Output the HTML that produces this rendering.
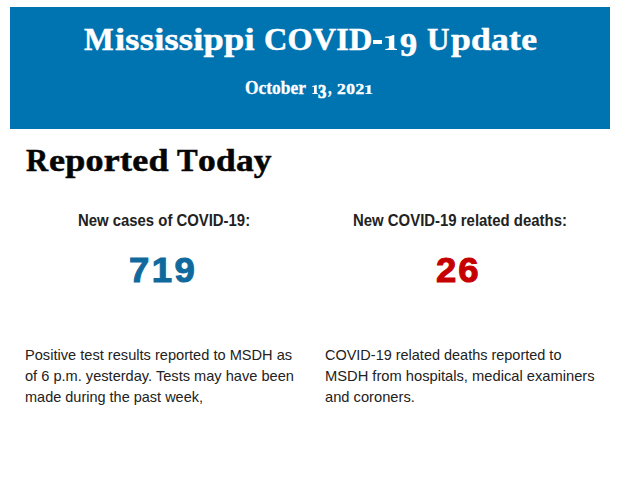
<!DOCTYPE html>
<html>
<head>
<meta charset="utf-8">
<title>Mississippi COVID-19 Update</title>
<style>
html,body{margin:0;padding:0;background:#fff;}
body{width:620px;height:483px;position:relative;overflow:hidden;font-family:"Liberation Sans",sans-serif;}
.hdr{position:absolute;left:10px;top:7px;width:600px;height:122px;background:#0073b1;}
.x{position:absolute;white-space:nowrap;line-height:1;transform-origin:0 0;display:block;}
</style>
</head>
<body>
<div class="hdr"></div>
<span class="x" style="left:83.55px;top:23.90px;font-family:'Liberation Serif', serif;font-weight:bold;font-size:31px;letter-spacing:0px;color:#fff;transform:scaleX(1.0136);-webkit-text-stroke:0.5px #fff;">M</span><span class="x" style="left:115.09px;top:23.90px;font-family:'Liberation Serif', serif;font-weight:bold;font-size:31px;letter-spacing:0.2px;color:#fff;transform:scaleX(1.1737);-webkit-text-stroke:0.5px #fff;">ississippi</span> <span class="x" style="left:264.42px;top:23.90px;font-family:'Liberation Serif', serif;font-weight:bold;font-size:31px;letter-spacing:0.2px;color:#fff;transform:scaleX(1.0406);-webkit-text-stroke:0.5px #fff;">COVID</span><span class="x" style="left:372.9px;top:39.6px;width:9.3px;height:4.3px;background:#fff;font-size:0;">-</span><span class="x" style="left:384.5px;top:34.8px;font-size:0;">1<svg style="display:block" width="12.9" height="15.2" viewBox="0 0 12.9 15.2" preserveAspectRatio="none"><path fill="#fff" d="M0.3 1.6 L3.2 1.4 C5.2 1.2 6.6 0.7 8 0 L9.3 0 L9.3 12.6 C9.3 13.5 9.8 13.8 12.6 14 L12.6 15.2 L0.3 15.2 L0.3 14 C3.2 13.8 3.9 13.5 3.9 12.6 L3.9 3.9 C3.9 3.2 3.6 3 2.6 3 L0.3 3 Z"/></svg></span><span class="x" style="left:399.71px;top:28.50px;font-family:'Liberation Serif', serif;font-weight:bold;font-size:33px;letter-spacing:0px;color:#fff;transform:scaleX(1.0361);-webkit-text-stroke:0.6px #fff;">9</span> <span class="x" style="left:426.85px;top:23.90px;font-family:'Liberation Serif', serif;font-weight:bold;font-size:31px;letter-spacing:0px;color:#fff;transform:scaleX(1.0044);-webkit-text-stroke:0.5px #fff;">U</span><span class="x" style="left:450.89px;top:23.90px;font-family:'Liberation Serif', serif;font-weight:bold;font-size:31px;letter-spacing:0.2px;color:#fff;transform:scaleX(1.1487);-webkit-text-stroke:0.5px #fff;">pdate</span>
<span class="x" style="left:244.64px;top:78.65px;font-family:'Liberation Serif', serif;font-weight:bold;font-size:18.5px;letter-spacing:0px;color:#fff;transform:scaleX(0.9412);-webkit-text-stroke:0.3px #fff;">October</span> <span class="x" style="left:311.6px;top:85.0px;font-size:0;">1<svg style="display:block" width="6.6" height="9.1" viewBox="0 0 12.9 15.2" preserveAspectRatio="none"><path fill="#fff" d="M0.3 1.6 L3.2 1.4 C5.2 1.2 6.6 0.7 8 0 L9.3 0 L9.3 12.6 C9.3 13.5 9.8 13.8 12.6 14 L12.6 15.2 L0.3 15.2 L0.3 14 C3.2 13.8 3.9 13.5 3.9 12.6 L3.9 3.9 C3.9 3.2 3.6 3 2.6 3 L0.3 3 Z"/></svg></span><span class="x" style="left:318.42px;top:82.90px;font-family:'Liberation Serif', serif;font-weight:bold;font-size:18px;letter-spacing:0px;color:#fff;transform:scaleX(0.9278);-webkit-text-stroke:0.7px #fff;">3</span><span class="x" style="left:328.31px;top:77.65px;font-family:'Liberation Serif', serif;font-weight:bold;font-size:19.5px;letter-spacing:0px;color:#fff;transform:scaleX(0.7547);-webkit-text-stroke:0.3px #fff;">,</span> <span class="x" style="left:337.04px;top:81.95px;font-family:'Liberation Serif', serif;font-weight:bold;font-size:14.5px;letter-spacing:0.4px;color:#fff;transform:scaleX(1.2070);-webkit-text-stroke:0.4px #fff;">202</span><span class="x" style="left:364.9px;top:85.0px;font-size:0;">1<svg style="display:block" width="7.7" height="9.1" viewBox="0 0 12.9 15.2" preserveAspectRatio="none"><path fill="#fff" d="M0.3 1.6 L3.2 1.4 C5.2 1.2 6.6 0.7 8 0 L9.3 0 L9.3 12.6 C9.3 13.5 9.8 13.8 12.6 14 L12.6 15.2 L0.3 15.2 L0.3 14 C3.2 13.8 3.9 13.5 3.9 12.6 L3.9 3.9 C3.9 3.2 3.6 3 2.6 3 L0.3 3 Z"/></svg></span>
<span class="x" style="left:25.65px;top:146.05px;font-family:'Liberation Serif', serif;font-weight:bold;font-size:30.5px;letter-spacing:0px;color:#060606;transform:scaleX(1.0043);-webkit-text-stroke:0.5px #060606;">R</span><span class="x" style="left:49.11px;top:146.05px;font-family:'Liberation Serif', serif;font-weight:bold;font-size:30.5px;letter-spacing:0.2px;color:#060606;transform:scaleX(1.1829);-webkit-text-stroke:0.5px #060606;">eported</span> <span class="x" style="left:176.95px;top:146.05px;font-family:'Liberation Serif', serif;font-weight:bold;font-size:30.5px;letter-spacing:0px;color:#060606;transform:scaleX(1.0146);-webkit-text-stroke:0.5px #060606;">T</span><span class="x" style="left:197.53px;top:146.05px;font-family:'Liberation Serif', serif;font-weight:bold;font-size:30.5px;letter-spacing:0.2px;color:#060606;transform:scaleX(1.1620);-webkit-text-stroke:0.5px #060606;">oday</span>
<span class="x" style="left:77.75px;top:212.50px;font-family:'Liberation Sans', sans-serif;font-weight:bold;font-size:15.6px;letter-spacing:0px;color:#222;transform:scaleX(0.9547);">New cases of COVID-19:</span>
<span class="x" style="left:128.87px;top:252.75px;font-family:'Liberation Sans', sans-serif;font-weight:bold;font-size:34.3px;letter-spacing:2.3px;color:#10699c;transform:scaleX(1.0634);-webkit-text-stroke:1.0px #10699c;">719</span>
<span class="x" style="left:24.93px;top:346.90px;font-family:'Liberation Sans', sans-serif;font-weight:normal;font-size:15px;letter-spacing:0px;color:#222;transform:scaleX(0.9741);">Positive test results reported to MSDH as</span> <span class="x" style="left:24.90px;top:367.90px;font-family:'Liberation Sans', sans-serif;font-weight:normal;font-size:15px;letter-spacing:0px;color:#222;transform:scaleX(0.9733);">of 6 p.m. yesterday. Tests may have been</span> <span class="x" style="left:25.33px;top:388.90px;font-family:'Liberation Sans', sans-serif;font-weight:normal;font-size:15px;letter-spacing:0px;color:#222;transform:scaleX(0.9659);">made during the past week,</span>
<span class="x" style="left:352.54px;top:212.50px;font-family:'Liberation Sans', sans-serif;font-weight:bold;font-size:15.6px;letter-spacing:0px;color:#222;transform:scaleX(0.9567);">New COVID-19 related deaths:</span>
<span class="x" style="left:436.27px;top:252.75px;font-family:'Liberation Sans', sans-serif;font-weight:bold;font-size:34.3px;letter-spacing:1.8px;color:#c60000;transform:scaleX(1.0650);-webkit-text-stroke:1.0px #c60000;">26</span>
<span class="x" style="left:325.10px;top:346.90px;font-family:'Liberation Sans', sans-serif;font-weight:normal;font-size:15px;letter-spacing:0px;color:#222;transform:scaleX(0.9645);">COVID-19 related deaths reported to</span> <span class="x" style="left:324.62px;top:367.90px;font-family:'Liberation Sans', sans-serif;font-weight:normal;font-size:15px;letter-spacing:0px;color:#222;transform:scaleX(0.9800);">MSDH from hospitals, medical examiners</span> <span class="x" style="left:325.00px;top:388.90px;font-family:'Liberation Sans', sans-serif;font-weight:normal;font-size:15px;letter-spacing:0px;color:#222;transform:scaleX(0.9795);">and coroners.</span>

</body>
</html>
